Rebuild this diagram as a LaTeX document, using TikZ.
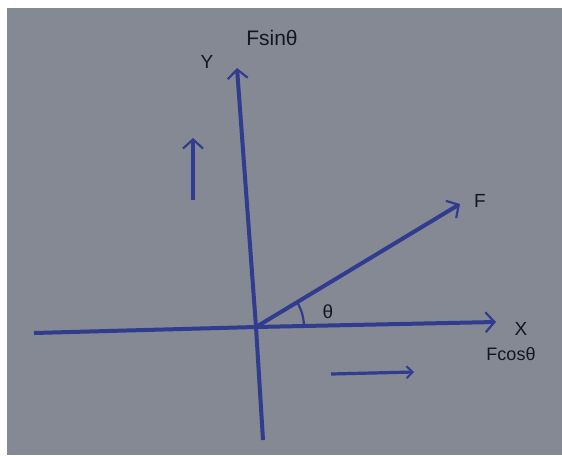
\documentclass[tikz,border=0pt]{standalone}
\usepackage{fontspec}
\setmainfont{Liberation Sans}
\usetikzlibrary{arrows.meta}
\definecolor{paper}{RGB}{132,137,148}
\definecolor{ink}{RGB}{50,60,142}
\definecolor{pencil}{RGB}{22,22,32}
\tikzset{
  axis/.style={draw=ink, line width=4pt, -{Straight Barb[length=9pt,width=20pt,line width=2.2pt]}},
  plainline/.style={draw=ink, line width=4pt},
  lbl/.style={text=pencil, font=\fontsize{19}{21}\selectfont, inner sep=1pt},
}
\begin{document}
\begin{tikzpicture}[x=1pt,y=-1pt]
\useasboundingbox (0,0) rectangle (562,455);
\fill[white] (0,0) rectangle (562,455);
\fill[paper] (7,8) rectangle (562,455);
% coordinates
\coordinate (O) at (256,327);
\coordinate (ytop) at (237,68);
\coordinate (ybot) at (263,440);
\coordinate (xleft) at (34,333);
\coordinate (xright) at (496,322);
\coordinate (Fend) at (460,204);
\coordinate (upA) at (193,200);
\coordinate (upB) at (193,138);
\coordinate (rtA) at (331,374);
\coordinate (rtB) at (414,372);
% axes
\draw[plainline] (O) -- (ybot);
\draw[axis] (O) -- (ytop);
\draw[plainline] (O) -- (xleft);
\draw[axis] (O) -- (xright);
\draw[axis] (O) -- (Fend);
% angle arc
\draw[ink, line width=2.2pt] (O) ++(-31:48) arc[start angle=-31, end angle=1, radius=48];
% small arrows
\draw[axis] (upA) -- (upB);
\draw[draw=ink, line width=3.2pt, -{Straight Barb[length=6pt,width=12pt,line width=2pt]}] (rtA) -- (rtB);
% labels
\node[lbl] (ylab) at (207,62) {Y};
\node[lbl, font=\fontsize{21}{23}\selectfont] (fsin) at (272,38) {Fsinθ};
\node[lbl] (flab) at (480,201) {F};
\node[lbl] (xlab) at (521,329) {X};
\node[lbl, font=\fontsize{18}{20}\selectfont] (fcos) at (511,354) {Fcosθ};
\node[lbl] (thlab) at (328,312) {θ};
\end{tikzpicture}
\end{document}
